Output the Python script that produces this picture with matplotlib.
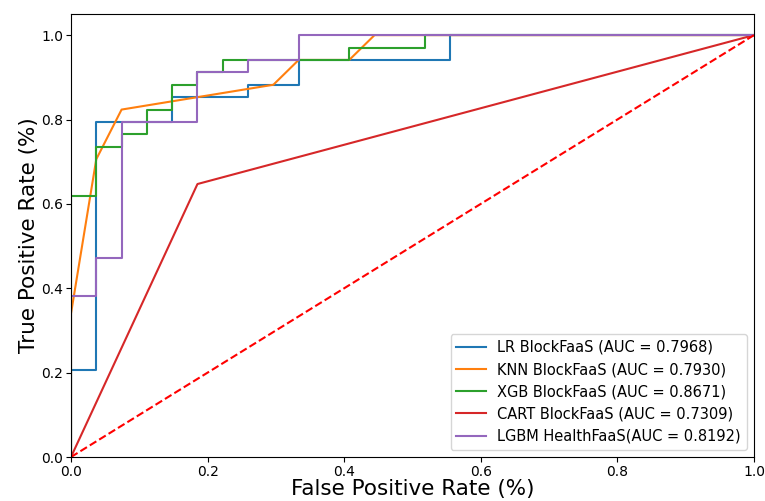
import matplotlib
matplotlib.use("Agg")
import matplotlib.pyplot as plt

lr_fpr = [0, 0, 1/27, 1/27, 4/27, 4/27, 7/27, 7/27, 9/27, 9/27, 15/27, 15/27, 1]
lr_tpr = [0, 7/34, 7/34, 27/34, 27/34, 29/34, 29/34, 30/34, 30/34, 32/34, 32/34, 1, 1]

knn_fpr = [0, 0, 1/27, 2/27, 8/27, 9/27, 11/27, 12/27, 1]
knn_tpr = [0, 0.34, 24/34, 28/34, 30/34, 32/34, 32/34, 1, 1]

xgb_fpr = [0, 0, 1/27, 1/27, 2/27, 2/27, 3/27, 3/27, 4/27, 4/27, 5/27, 5/27, 6/27, 6/27,
           11/27, 11/27, 14/27, 14/27, 1]
xgb_tpr = [0, 21/34, 21/34, 25/34, 25/34, 26/34, 26/34, 28/34, 28/34, 30/34, 30/34, 31/34,
           31/34, 32/34, 32/34, 33/34, 33/34, 1, 1]

cart_fpr = [0, 5/27, 1]
cart_tpr = [0, 22/34, 1]

lgbm_fpr = [0, 0, 1/27, 1/27, 2/27, 2/27, 5/27, 5/27, 7/27, 7/27, 9/27, 9/27, 1]
lgbm_tpr = [0, 13/34, 13/34, 16/34, 16/34, 27/34, 27/34, 31/34, 31/34, 32/34, 32/34, 1, 1]

labels = ["LR BlockFaaS (AUC = 0.7968)",
          "KNN BlockFaaS (AUC = 0.7930)",
          "XGB BlockFaaS (AUC = 0.8671)",
          "CART BlockFaaS (AUC = 0.7309)",
          "LGBM HealthFaaS(AUC = 0.8192)"]

fig = plt.figure(figsize=(7.65, 5.01), dpi=100)
ax = fig.add_axes([0.0928, 0.0878, 0.8928, 0.8842])

ax.plot(lr_fpr, lr_tpr, color="#1f77b4", lw=1.5, label=labels[0])
ax.plot(knn_fpr, knn_tpr, color="#ff7f0e", lw=1.5, label=labels[1])
ax.plot(xgb_fpr, xgb_tpr, color="#2ca02c", lw=1.5, label=labels[2])
ax.plot(cart_fpr, cart_tpr, color="#d62728", lw=1.5, label=labels[3])
ax.plot(lgbm_fpr, lgbm_tpr, color="#9467bd", lw=1.5, label=labels[4])
ax.plot([0, 1], [0, 1], color="red", lw=1.5, ls="--")

ax.set_xlim(0, 1)
ax.set_ylim(0, 1.05)
ax.set_xticks([0, 0.2, 0.4, 0.6, 0.8, 1.0])
ax.set_yticks([0, 0.2, 0.4, 0.6, 0.8, 1.0])
ax.tick_params(labelsize=10, pad=2)
ax.set_xlabel("False Positive Rate (%)", fontsize=15.5, labelpad=0)
ax.set_ylabel("True Positive Rate (%)", fontsize=15.5, labelpad=2)
ax.legend(loc="lower right", fontsize=10.5)

fig.savefig("out.png", dpi=100)
